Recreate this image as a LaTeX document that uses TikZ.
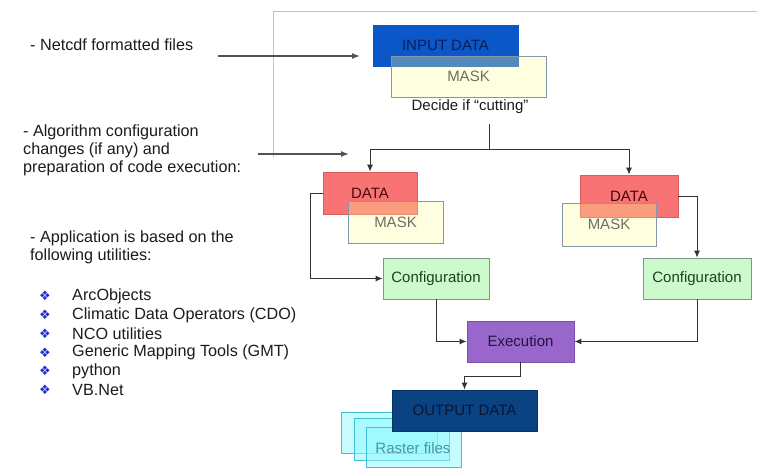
\documentclass[tikz,border=0pt]{standalone}
\usepackage{fontspec}
\setmainfont{Liberation Sans}
\newfontfamily\symfont{DejaVu Sans}
\usetikzlibrary{arrows.meta}

\definecolor{txtgrey}{HTML}{1C1C1C}
\definecolor{framec}{HTML}{B4C2D2}
\definecolor{inblue}{HTML}{0B57C7}
\definecolor{intxt}{HTML}{0A1E5A}
\definecolor{maskfill}{HTML}{FFFF99}
\definecolor{maskdraw}{HTML}{8496AE}
\definecolor{masktxt}{HTML}{6E6E64}
\definecolor{datafill}{HTML}{F87474}
\definecolor{datadraw}{HTML}{D85C5C}
\definecolor{datatxt}{HTML}{4A0808}
\definecolor{conffill}{HTML}{CCFACC}
\definecolor{confdraw}{HTML}{84948A}
\definecolor{conftxt}{HTML}{223E22}
\definecolor{execfill}{HTML}{9966CC}
\definecolor{execdraw}{HTML}{7A52A8}
\definecolor{exectxt}{HTML}{24143E}
\definecolor{outfill}{HTML}{0A4282}
\definecolor{outdraw}{HTML}{083464}
\definecolor{outtxt}{HTML}{081634}
\definecolor{rastfill}{HTML}{90FAFF}
\definecolor{rastdraw}{HTML}{40C0D8}
\definecolor{rasttxt}{HTML}{4E94A0}
\definecolor{arrc}{HTML}{333333}
\definecolor{bulletc}{HTML}{1E2ED2}

\tikzset{
  lbl/.style={font=\fontsize{16.2}{18}\selectfont, text=txtgrey, inner sep=0pt, align=left},
  dlbl/.style={font=\fontsize{15}{18}\selectfont},
  box/.style={draw, line width=0.8pt, inner sep=0pt, dlbl},
  inbox/.style={box, fill=inblue, draw=inblue, text=intxt},
  maskbox/.style={box, fill=maskfill, fill opacity=0.3, draw=maskdraw, text opacity=1, text=masktxt},
  databox/.style={box, fill=datafill, draw=datadraw, text=datatxt},
  confbox/.style={box, fill=conffill, draw=confdraw, text=conftxt},
  execbox/.style={box, fill=execfill, draw=execdraw, text=exectxt},
  outbox/.style={box, fill=outfill, draw=outdraw, text=outtxt},
  rastbox/.style={box, fill=rastfill, fill opacity=0.5, draw=rastdraw, text opacity=1, text=rasttxt},
  arr/.style={draw=arrc, line width=1pt, -{Latex[length=7pt,width=6pt]}},
  sidearr/.style={draw=arrc!85, line width=1.4pt, -{Latex[length=8pt,width=6pt]}},
  bul/.style={font=\symfont\fontsize{13}{14}\selectfont, text=bulletc, inner sep=0pt},
}

\begin{document}
\begin{tikzpicture}[x=1pt, y=-1pt]
  \useasboundingbox[fill=white] (0,0) rectangle (757,468);

  % thin frame around the processing area
  \draw[framec, line width=0.9pt] (273,157) -- (273,11) -- (757,11);

  % left-hand notes
  \node[lbl, anchor=west] (note1) at (30,45) {- Netcdf formatted files};
  \node[lbl, anchor=west] (note2) at (23,150) {- Algorithm configuration\\changes (if any) and\\preparation of code execution:};
  \node[lbl, anchor=west] (note3) at (30,247) {- Application is based on the\\following utilities:};

  % list of utilities
  \foreach \t [count=\i] in {ArcObjects, Climatic Data Operators (CDO), NCO utilities,
                             Generic Mapping Tools (GMT), python, VB.Net} {
    \node[bul] (b\i) at (45, 277.5+18.7*\i) {❖};
    \node[lbl, anchor=west] (u\i) at (72, 277.5+18.7*\i) {\t};
  }

  % side arrows from the notes
  \coordinate (a1s) at (218,56);
  \coordinate (a1e) at (360,56);
  \coordinate (a2s) at (258,154);
  \coordinate (a2e) at (349,154);
  \draw[sidearr] (a1s) -- (a1e);
  \draw[sidearr] (a2s) -- (a2e);

  % input stage
  \node[inbox, minimum width=145pt, minimum height=41pt] (in) at (445.5,45.5) {INPUT DATA};
  \node[maskbox, minimum width=155pt, minimum height=41pt] (inmask) at (468.5,76.5) {MASK};
  \node[dlbl, text=txtgrey, inner sep=0pt] (decide) at (470,107) {Decide if “cutting”};

  % two data branches
  \node[databox, minimum width=94pt, minimum height=42pt] (ldata) at (370,193) {DATA};
  \node[maskbox, minimum width=95pt, minimum height=42pt] (lmask) at (395.5,222) {MASK};
  \node[databox, minimum width=98pt, minimum height=42pt] (rdata) at (629,196) {DATA};
  \node[maskbox, minimum width=94pt, minimum height=43pt] (rmask) at (609,224.5) {MASK};

  \node[confbox, minimum width=106pt, minimum height=41pt] (lconf) at (436,278.5) {Configuration};
  \node[confbox, minimum width=108pt, minimum height=41pt] (rconf) at (697,278.5) {Configuration};

  \node[execbox, minimum width=107pt, minimum height=41pt] (exec) at (520.5,341.5) {Execution};

  % raster files stacked behind the output
  \node[rastbox, minimum width=96pt, minimum height=41pt] (r1) at (389,432.5) {};
  \node[rastbox, minimum width=95pt, minimum height=42pt] (r2) at (401.5,439) {};
  \node[rastbox, minimum width=95pt, minimum height=40pt] (r3) at (413.5,447) {};
  \node[dlbl, text=rasttxt, inner sep=0pt] (rtxt) at (413,448) {Raster files};

  \node[outbox, minimum width=145pt, minimum height=41pt] (out) at (464.5,410.5) {OUTPUT DATA};

  % connectors
  \coordinate (split) at (489,124);
  \coordinate (fork) at (489,149);
  \draw[arrc, line width=1pt] (split) -- (fork);
  \draw[arr] (fork) -| (ldata.north);
  \draw[arr] (fork) -| (rdata.north);
  \draw[arr] (ldata.west) -- ++(-12,0) |- (lconf.west);
  \draw[arr] (rdata.east) -| (rconf.north);
  \draw[arr] (lconf.south) |- (exec.west);
  \draw[arr] (rconf.south) |- (exec.east);
  \draw[arr] (exec.south) -- ++(0,14) -| (out.north);
\end{tikzpicture}
\end{document}
